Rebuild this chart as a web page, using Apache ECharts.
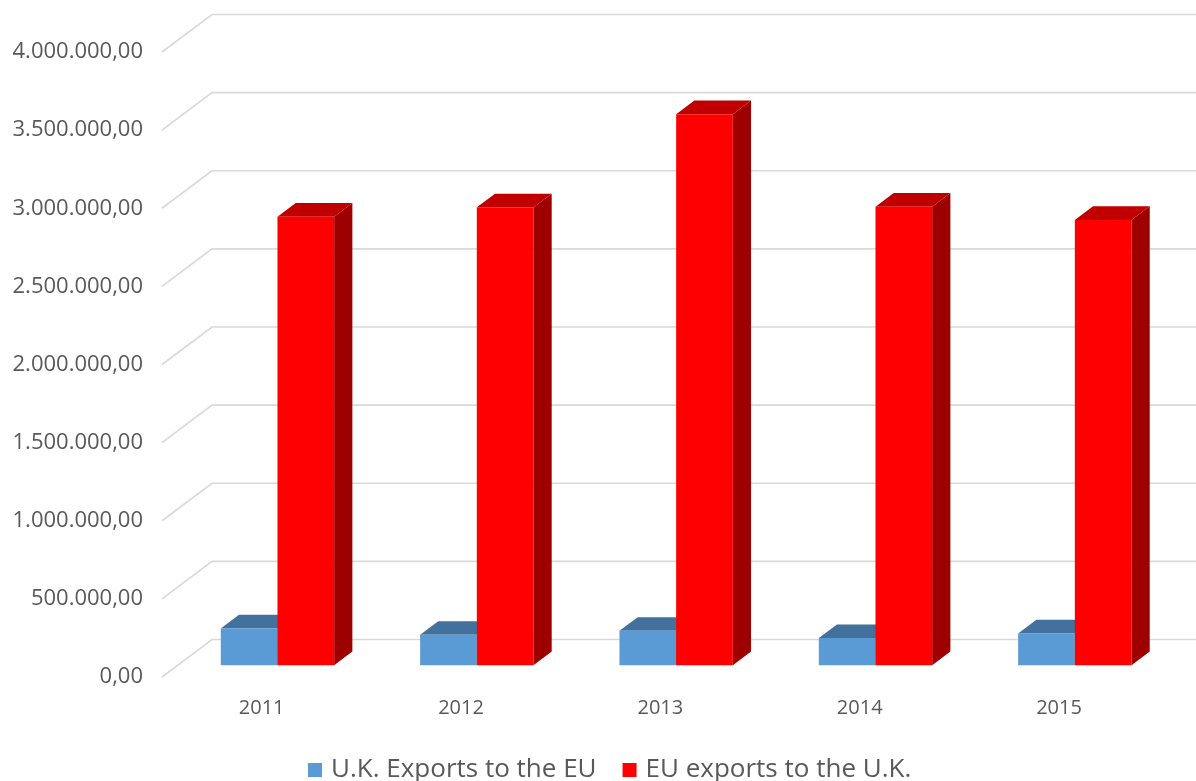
<!DOCTYPE html>
<html><head><meta charset="utf-8">
<script src="https://cdn.jsdelivr.net/npm/echarts@6/dist/echarts.min.js"></script>
<style>html,body{margin:0;padding:0;background:#fff}#c{width:1196px;height:781px}</style>
</head><body><div id="c"></div>
<script>
const categories = ['2011', '2012', '2013', '2014', '2015'];
const ukExports = [235000, 194000, 220000, 173000, 203000];
const euExports = [2870000, 2930000, 3526000, 2934000, 2849000];
const yTicks = [0, 500000, 1000000, 1500000, 2000000, 2500000, 3000000, 3500000, 4000000];
const seriesNames = ['U.K. Exports to the EU', 'EU exports to the U.K.'];

const DEPTH_X = 50, DEPTH_Y = 37.5;
const F1 = 0.316, F2 = 0.68;
const BAR_W_FRAC = 0.2844;
const FONT = "'Open Sans', sans-serif";

function fmt(v) {
  return Math.round(v).toString().replace(/\B(?=(\d{3})+(?!\d))/g, '.') + ',00';
}

function barRender(leftSide, frontC, topC, sideC) {
  return function (params, api) {
    const i = api.value(0), v = api.value(1);
    const base = api.coord([i, 0]);
    const topP = api.coord([i, v]);
    const bw = api.size([1, 0])[0] * BAR_W_FRAC;
    const dx1 = F1 * DEPTH_X, dy1 = F1 * DEPTH_Y;
    const ddx = (F2 - F1) * DEPTH_X, ddy = (F2 - F1) * DEPTH_Y;
    const x0 = leftSide ? base[0] + dx1 - bw : base[0] + dx1;
    const x1 = x0 + bw;
    const yb = base[1] - dy1, yt = topP[1] - dy1;
    return {
      type: 'group', children: [
        { type: 'polygon', shape: { points: [[x1, yb], [x1 + ddx, yb - ddy], [x1 + ddx, yt - ddy], [x1, yt]] }, style: { fill: sideC } },
        { type: 'polygon', shape: { points: [[x0, yt], [x1, yt], [x1 + ddx, yt - ddy], [x0 + ddx, yt - ddy]] }, style: { fill: topC } },
        { type: 'rect', shape: { x: x0, y: yt, width: bw, height: yb - yt }, style: { fill: frontC } }
      ]
    };
  };
}

function gridRender(params, api) {
  const v = api.value(1);
  const p = api.coord([0, v]);
  const x = params.coordSys.x;
  const y = p[1];
  return {
    type: 'polyline',
    shape: { points: [[x, y], [x + DEPTH_X, y - DEPTH_Y], [api.getWidth(), y - DEPTH_Y]] },
    style: { stroke: '#d9d9d9', lineWidth: 1.6, fill: null }
  };
}

const chart = echarts.init(document.getElementById('c'), null, { renderer: 'canvas' });
chart.setOption({
  animation: false,
  backgroundColor: '#ffffff',
  grid: { left: 162, right: 37.3, top: 52, bottom: 104, containLabel: false },
  xAxis: {
    type: 'category', data: categories,
    axisLine: { show: false }, axisTick: { show: false },
    axisLabel: { margin: 21, fontSize: 20, color: '#595959', fontFamily: FONT }
  },
  yAxis: {
    type: 'value', min: 0, max: 4000000, interval: 500000,
    splitLine: { show: false }, axisLine: { show: false }, axisTick: { show: false },
    axisLabel: { margin: 19, fontSize: 22, color: '#595959', fontFamily: FONT, formatter: fmt, padding: [5, 0, 0, 0] }
  },
  legend: {
    data: seriesNames, left: 303, top: 752, itemWidth: 14, itemHeight: 14, itemGap: 26, icon: 'rect',
    textStyle: { fontSize: 26, color: '#595959', fontFamily: FONT, padding: [0, 0, 0, 4] }
  },
  series: [
    {
      type: 'custom', name: 'grid', clip: false, silent: true, z: 1,
      data: yTicks.map(v => [0, v]), encode: { x: 0, y: 1 }, renderItem: gridRender
    },
    {
      type: 'custom', name: seriesNames[0], clip: false, z: 2,
      itemStyle: { color: '#5b9bd5' },
      data: ukExports.map((v, i) => [i, v]), encode: { x: 0, y: 1 },
      renderItem: barRender(true, '#5b9bd5', '#41719c', '#3d6a94')
    },
    {
      type: 'custom', name: seriesNames[1], clip: false, z: 3,
      itemStyle: { color: '#ff0000' },
      data: euExports.map((v, i) => [i, v]), encode: { x: 0, y: 1 },
      renderItem: barRender(false, '#ff0000', '#c00000', '#9e0000')
    }
  ]
});
</script>
</body></html>
